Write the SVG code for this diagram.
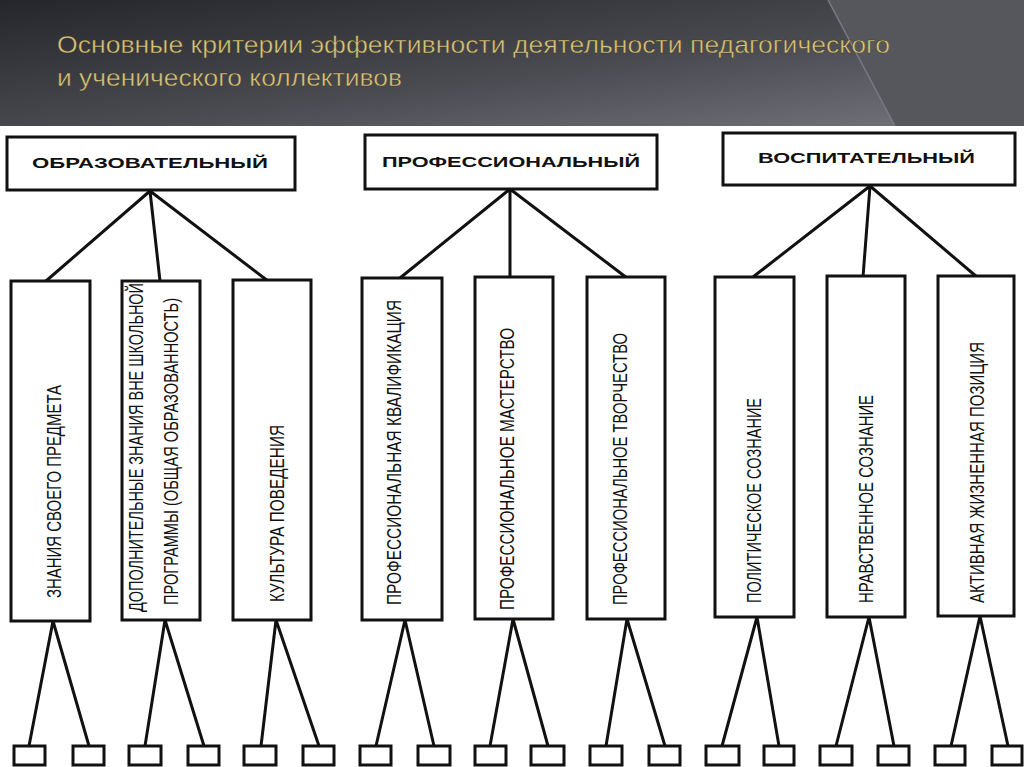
<svg xmlns="http://www.w3.org/2000/svg" width="1024" height="767" viewBox="0 0 1024 767">
<defs>
<linearGradient id="hdr" x1="0" y1="0" x2="1" y2="1">
<stop offset="0" stop-color="#25262b"/>
<stop offset="0.55" stop-color="#4a4b51"/>
<stop offset="1" stop-color="#75767d"/>
</linearGradient>
<style>
.b{fill:#fff;stroke:#111;stroke-width:3}
.l{stroke:#111;stroke-width:3;fill:none}
.h{font-family:"Liberation Sans",Arial,sans-serif;font-weight:bold;font-size:14px;fill:#111}
.v{font-family:"Liberation Sans",Arial,sans-serif;font-size:20px;fill:#111}
.t{font-family:"Liberation Sans",Arial,sans-serif;font-size:24px;fill:#d8c47c;stroke:#3a3320;stroke-width:0.4}
</style>
</defs>
<rect width="1024" height="767" fill="#fff"/>
<g id="header">
<rect x="0" y="0" width="1024" height="126" fill="url(#hdr)"/>
<path d="M828,0 L1024,0 L1024,126 L895,126 Q860,60 828,0 Z" fill="#56575d"/>
<path d="M828,0 Q860,60 895,126" fill="none" stroke="#7a7b82" stroke-width="1.5"/>
<text class="t" x="57" y="53" textLength="833" lengthAdjust="spacingAndGlyphs">Основные критерии эффективности деятельности педагогического</text>
<text class="t" x="57" y="86" textLength="345" lengthAdjust="spacingAndGlyphs">и ученического коллективов</text>
</g>
<g id="connectors">
<path class="l" d="M150,191 L46,281 M150,191 L160,281 M150,191 L268,281"/>
<path class="l" d="M510,189 L400,278 M510,189 L510,278 M510,189 L627,278"/>
<path class="l" d="M870,186 L753,277 M870,186 L863,277 M870,186 L977,277"/>
<path class="l" d="M53,621 L29,746 M53,621 L89,746"/>
<path class="l" d="M165,620 L145,746 M165,620 L204,746"/>
<path class="l" d="M276,620 L261,746 M276,620 L319,746"/>
<path class="l" d="M405,620 L376,746 M405,620 L434,746"/>
<path class="l" d="M513,619 L490,746 M513,619 L548,746"/>
<path class="l" d="M627,619 L606,746 M627,619 L665,746"/>
<path class="l" d="M757,617 L722,746 M757,617 L779,746"/>
<path class="l" d="M869,617 L836,746 M869,617 L894,746"/>
<path class="l" d="M980,616 L951,746 M980,616 L1008,746"/>
</g>
<g id="n-obr"><rect class="b" x="7" y="137" width="288" height="53"/><text class="h" x="32" y="168" textLength="236" lengthAdjust="spacingAndGlyphs">ОБРАЗОВАТЕЛЬНЫЙ</text></g>
<g id="n-prof"><rect class="b" x="365" y="135" width="292" height="54"/><text class="h" x="382" y="167" textLength="258" lengthAdjust="spacingAndGlyphs">ПРОФЕССИОНАЛЬНЫЙ</text></g>
<g id="n-vosp"><rect class="b" x="723" y="133" width="292" height="52"/><text class="h" x="758" y="163" textLength="217" lengthAdjust="spacingAndGlyphs">ВОСПИТАТЕЛЬНЫЙ</text></g>

<g id="c1"><rect class="b" x="11" y="281" width="79" height="340"/><text class="v" transform="translate(61,598) rotate(-90)" textLength="213" lengthAdjust="spacingAndGlyphs">ЗНАНИЯ СВОЕГО ПРЕДМЕТА</text></g>
<g id="c2"><rect class="b" x="122" y="281" width="78" height="339"/><text class="v" transform="translate(143,612) rotate(-90)" textLength="329" lengthAdjust="spacingAndGlyphs">ДОПОЛНИТЕЛЬНЫЕ ЗНАНИЯ ВНЕ ШКОЛЬНОЙ</text><text class="v" transform="translate(178,605) rotate(-90)" textLength="307" lengthAdjust="spacingAndGlyphs">ПРОГРАММЫ (ОБЩАЯ ОБРАЗОВАННОСТЬ)</text></g>
<g id="c3"><rect class="b" x="233" y="280" width="78" height="340"/><text class="v" transform="translate(284,602) rotate(-90)" textLength="177" lengthAdjust="spacingAndGlyphs">КУЛЬТУРА ПОВЕДЕНИЯ</text></g>
<g id="c4"><rect class="b" x="362" y="278" width="80" height="342"/><text class="v" transform="translate(401,605) rotate(-90)" textLength="305" lengthAdjust="spacingAndGlyphs">ПРОФЕССИОНАЛЬНАЯ КВАЛИФИКАЦИЯ</text></g>
<g id="c5"><rect class="b" x="475" y="277" width="78" height="342"/><text class="v" transform="translate(514,610) rotate(-90)" textLength="282" lengthAdjust="spacingAndGlyphs">ПРОФЕССИОНАЛЬНОЕ МАСТЕРСТВО</text></g>
<g id="c6"><rect class="b" x="587" y="277" width="78" height="342"/><text class="v" transform="translate(627,605) rotate(-90)" textLength="272" lengthAdjust="spacingAndGlyphs">ПРОФЕССИОНАЛЬНОЕ ТВОРЧЕСТВО</text></g>
<g id="c7"><rect class="b" x="715" y="277" width="79" height="340"/><text class="v" transform="translate(761,603) rotate(-90)" textLength="205" lengthAdjust="spacingAndGlyphs">ПОЛИТИЧЕСКОЕ СОЗНАНИЕ</text></g>
<g id="c8"><rect class="b" x="827" y="276" width="78" height="341"/><text class="v" transform="translate(873,603) rotate(-90)" textLength="208" lengthAdjust="spacingAndGlyphs">НРАВСТВЕННОЕ СОЗНАНИЕ</text></g>
<g id="c9"><rect class="b" x="938" y="276" width="76" height="340"/><text class="v" transform="translate(984,603) rotate(-90)" textLength="261" lengthAdjust="spacingAndGlyphs">АКТИВНАЯ ЖИЗНЕННАЯ ПОЗИЦИЯ</text></g>

<g id="leaves">
<rect class="b" x="14" y="746" width="31" height="19"/>
<rect class="b" x="73" y="746" width="31" height="19"/>
<rect class="b" x="129" y="746" width="32" height="19"/>
<rect class="b" x="188" y="746" width="31" height="19"/>
<rect class="b" x="244" y="746" width="32" height="19"/>
<rect class="b" x="303" y="746" width="31" height="19"/>
<rect class="b" x="360" y="746" width="31" height="19"/>
<rect class="b" x="418" y="746" width="32" height="19"/>
<rect class="b" x="475" y="746" width="31" height="19"/>
<rect class="b" x="531" y="746" width="33" height="19"/>
<rect class="b" x="590" y="746" width="32" height="19"/>
<rect class="b" x="649" y="746" width="31" height="19"/>
<rect class="b" x="706" y="746" width="33" height="19"/>
<rect class="b" x="764" y="746" width="30" height="19"/>
<rect class="b" x="820" y="746" width="32" height="19"/>
<rect class="b" x="878" y="746" width="31" height="19"/>
<rect class="b" x="935" y="746" width="30" height="19"/>
<rect class="b" x="992" y="746" width="30" height="19"/>
</g>
</svg>
